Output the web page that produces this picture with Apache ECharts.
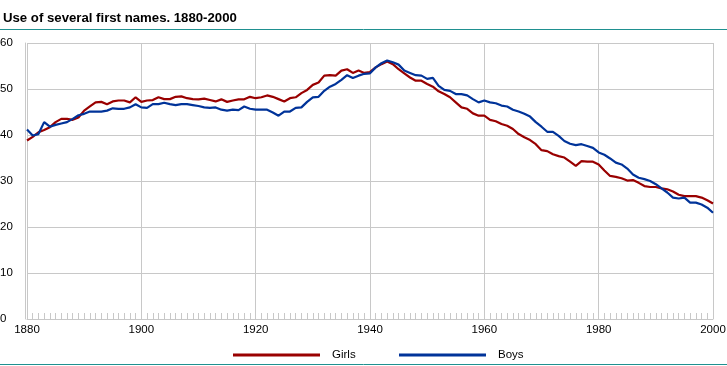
<!DOCTYPE html>
<html>
<head>
<meta charset="utf-8">
<script src="https://cdn.jsdelivr.net/npm/echarts@6/dist/echarts.min.js"></script>
<style>
html,body{margin:0;padding:0;background:#fff;}
#c{width:727px;height:366px;}
</style>
</head>
<body>
<div id="c"></div>
<script>
var titleText = 'Use of several first names. 1880-2000';
var years = [];
for (var y = 1880; y <= 2000; y++) years.push(y);
var girls = [
38.8,39.6,40.6,41.1,41.7,42.8,43.5,43.5,43.3,43.8,
45.3,46.2,47.1,47.2,46.7,47.3,47.5,47.5,47.1,48.2,
47.2,47.5,47.6,48.2,47.8,47.8,48.3,48.4,48.0,47.8,
47.75,47.9,47.6,47.3,47.75,47.2,47.5,47.75,47.75,48.3,
48.0,48.2,48.6,48.3,47.8,47.3,48.0,48.2,49.1,49.8,
50.9,51.4,52.9,53.0,52.9,54.0,54.3,53.5,54.0,53.5,
53.7,54.7,55.4,56.0,55.4,54.3,53.4,52.5,51.8,51.8,
51.1,50.5,49.5,48.9,48.2,47.1,46.0,45.7,44.7,44.2,
44.2,43.3,43.0,42.4,42.0,41.3,40.2,39.5,38.9,38.0,
36.7,36.5,35.8,35.4,35.1,34.2,33.3,34.3,34.2,34.2,
33.6,32.3,31.1,30.9,30.6,30.1,30.2,29.6,28.9,28.7,
28.7,28.4,28.2,27.7,27.0,26.7,26.7,26.7,26.4,25.8,
25.1
];
var boys = [
41.2,39.9,40.2,42.8,41.8,42.2,42.5,42.8,43.5,44.3,
44.6,45.1,45.1,45.1,45.3,45.8,45.7,45.7,46.0,46.7,
46.0,45.9,46.7,46.7,47.0,46.7,46.5,46.7,46.7,46.5,
46.3,46.0,45.9,46.0,45.5,45.3,45.5,45.4,46.2,45.7,
45.5,45.5,45.5,44.9,44.2,45.1,45.1,45.9,46.0,47.2,
48.2,48.3,49.6,50.5,51.1,52.0,53.0,52.4,52.9,53.3,
53.4,54.7,55.6,56.2,55.8,55.3,54.0,53.5,53.0,52.9,
52.2,52.4,50.7,49.8,49.6,48.9,48.9,48.6,47.8,47.1,
47.5,47.1,46.9,46.4,46.2,45.5,45.1,44.6,44.0,42.8,
41.8,40.7,40.7,39.8,38.7,38.1,37.8,38.0,37.6,37.2,
36.2,35.7,34.9,34.0,33.6,32.7,31.4,30.7,30.4,30.0,
29.3,28.4,27.5,26.4,26.2,26.4,25.3,25.3,24.9,24.2,
23.1
];
var seriesNames = ['Girls', 'Boys'];
var colors = ['#990000', '#003399'];

function pairs(vals){ return years.map(function(y,i){ return [y, vals[i]]; }); }

var fontFam = 'Liberation Sans, Arial, sans-serif';
var chart = echarts.init(document.getElementById('c'), null, {renderer:'canvas'});
chart.setOption({
  animation: false,
  backgroundColor: '#fff',
  title: {
    text: titleText, left: 3, top: 12, padding: 0,
    textStyle: {fontFamily: fontFam, fontSize: 13.2, fontWeight: 'bold', color: '#000'}
  },
  graphic: [
    {type:'line', shape:{x1:0,y1:29.5,x2:727,y2:29.5}, style:{stroke:'#1f9090', lineWidth:1}},
    {type:'line', shape:{x1:0,y1:364.5,x2:727,y2:364.5}, style:{stroke:'#1f9090', lineWidth:1}}
  ],
  legend: [
    {data:[seriesNames[0]], left: 233, top: 349, padding: 0, icon:'rect', itemWidth: 87, itemHeight: 3, itemGap: 11,
     textStyle:{fontFamily: fontFam, fontSize: 11.5, color:'#000', padding:[0,0,0,7]}},
    {data:[seriesNames[1]], left: 399, top: 349, padding: 0, icon:'rect', itemWidth: 87, itemHeight: 3, itemGap: 11,
     textStyle:{fontFamily: fontFam, fontSize: 11.5, color:'#000', padding:[0,0,0,7]}}
  ],
  grid: {left: 27, right: 14, top: 43, bottom: 47, containLabel: false, outerBoundsMode: 'none'},
  xAxis: {
    type: 'value', min: 1880, max: 2000, interval: 20,
    axisLine: {show: true, lineStyle: {color: '#c8c8c8', width: 1}},
    axisTick: {show: true, inside: true, length: 6, lineStyle: {color: '#c8c8c8'}},
    minorTick: {show: true, splitNumber: 20, length: 6, lineStyle: {color: '#c8c8c8'}},
    splitLine: {show: true, lineStyle: {color: '#c8c8c8', width: 1}},
    axisLabel: {fontFamily: fontFam, fontSize: 11.5, color: '#000', margin: 5,
      formatter: function(v){ return String(v); }}
  },
  yAxis: {
    type: 'value', min: 0, max: 60, interval: 10, offset: 2,
    axisLine: {show: true, lineStyle: {color: '#c8c8c8', width: 1}},
    axisTick: {show: false},
    splitLine: {show: true, lineStyle: {color: '#c8c8c8', width: 1}},
    axisLabel: {fontFamily: fontFam, fontSize: 11.5, color: '#000', align: 'left', margin: 25}
  },
  series: [
    {name: seriesNames[0], type: 'line', data: pairs(girls), showSymbol: false, symbol: 'none',
     lineStyle: {color: colors[0], width: 2.2}, itemStyle: {color: colors[0]}},
    {name: seriesNames[1], type: 'line', data: pairs(boys), showSymbol: false, symbol: 'none',
     lineStyle: {color: colors[1], width: 2.2}, itemStyle: {color: colors[1]}}
  ]
});
</script>
</body>
</html>
